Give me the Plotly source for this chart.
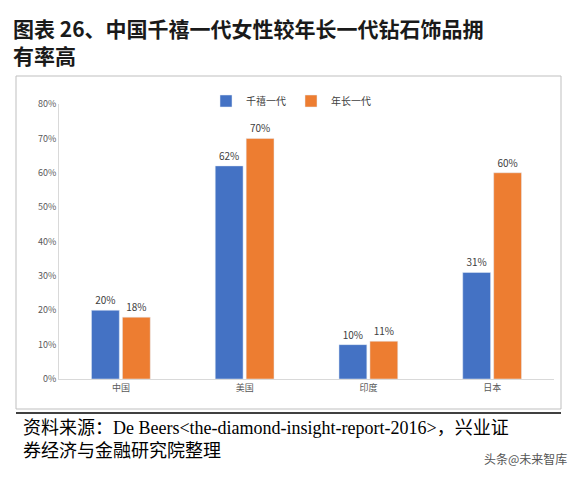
import plotly.graph_objects as go

categories = ["中国", "美国", "印度", "日本"]
millennials = [20, 62, 10, 31]
older = [18, 70, 11, 60]
yticks = [0, 10, 20, 30, 40, 50, 60, 70, 80]

W, H = 580, 478
OFF = 7
def py(p): return 1 - (p - OFF) / H
def px(p): return (p - OFF) / W

fig = go.Figure()
fig.add_bar(name="千禧一代", x=categories, y=millennials, marker_color="#4472C4",
            text=[f"{v}%" for v in millennials], textposition="outside",
            textfont=dict(size=10, color="#404040"), cliponaxis=False)
fig.add_bar(name="年长一代", x=categories, y=older, marker_color="#ED7D31",
            text=[f"{v}%" for v in older], textposition="outside",
            textfont=dict(size=10, color="#404040"), cliponaxis=False)

fig.update_layout(
    width=W, height=H, margin=dict(l=0, r=0, t=0, b=0, autoexpand=False),
    paper_bgcolor="white", plot_bgcolor="white",
    font=dict(family="Noto Sans CJK SC", size=10, color="#595959"),
    barmode="group", bargap=0.5, bargroupgap=0.1,
    xaxis=dict(domain=[px(58), px(553)], showline=True, linecolor="#D9D9D9",
               ticks="", tickfont=dict(size=9)),
    yaxis=dict(domain=[py(378), py(103)], range=[0, 80], tickvals=yticks,
               ticktext=[f"{v}%" for v in yticks], showgrid=False,
               showline=True, linecolor="#D9D9D9", zeroline=False,
               tickfont=dict(size=9, color="#595959")),
    legend=dict(orientation="h", x=px(205), y=py(100), xanchor="left", yanchor="middle",
                font=dict(size=10, color="#404040"), itemwidth=30),
    showlegend=True,
)
fig.add_shape(type="rect", xref="paper", yref="paper", x0=px(15), x1=px(560),
              y0=py(408), y1=py(75), line=dict(color="#BFBFBF", width=1))
fig.add_shape(type="line", xref="paper", yref="paper", x0=px(15), x1=px(560),
              y0=py(412), y1=py(412), line=dict(color="black", width=1.5))
fig.add_annotation(xref="paper", yref="paper", x=px(10), y=py(10), xanchor="left", yanchor="top",
                   align="left", showarrow=False,
                   text="<b>图表 26、中国千禧一代女性较年长一代钻石饰品拥<br>有率高</b>",
                   font=dict(family="Noto Sans CJK SC", size=21, color="#1A1A1A"))
fig.add_annotation(xref="paper", yref="paper", x=px(20), y=py(415), xanchor="left", yanchor="top",
                   align="left", showarrow=False,
                   text="资料来源：De Beers&lt;the-diamond-insight-report-2016&gt;，兴业证<br>券经济与金融研究院整理",
                   font=dict(family="Liberation Serif, Noto Sans CJK SC", size=18, color="black"))
fig.add_annotation(xref="paper", yref="paper", x=px(568), y=py(468), xanchor="right", yanchor="bottom",
                   showarrow=False, text="头条@未来智库",
                   font=dict(family="Noto Sans CJK SC", size=12, color="#555555"))
fig.write_html("out.html")
